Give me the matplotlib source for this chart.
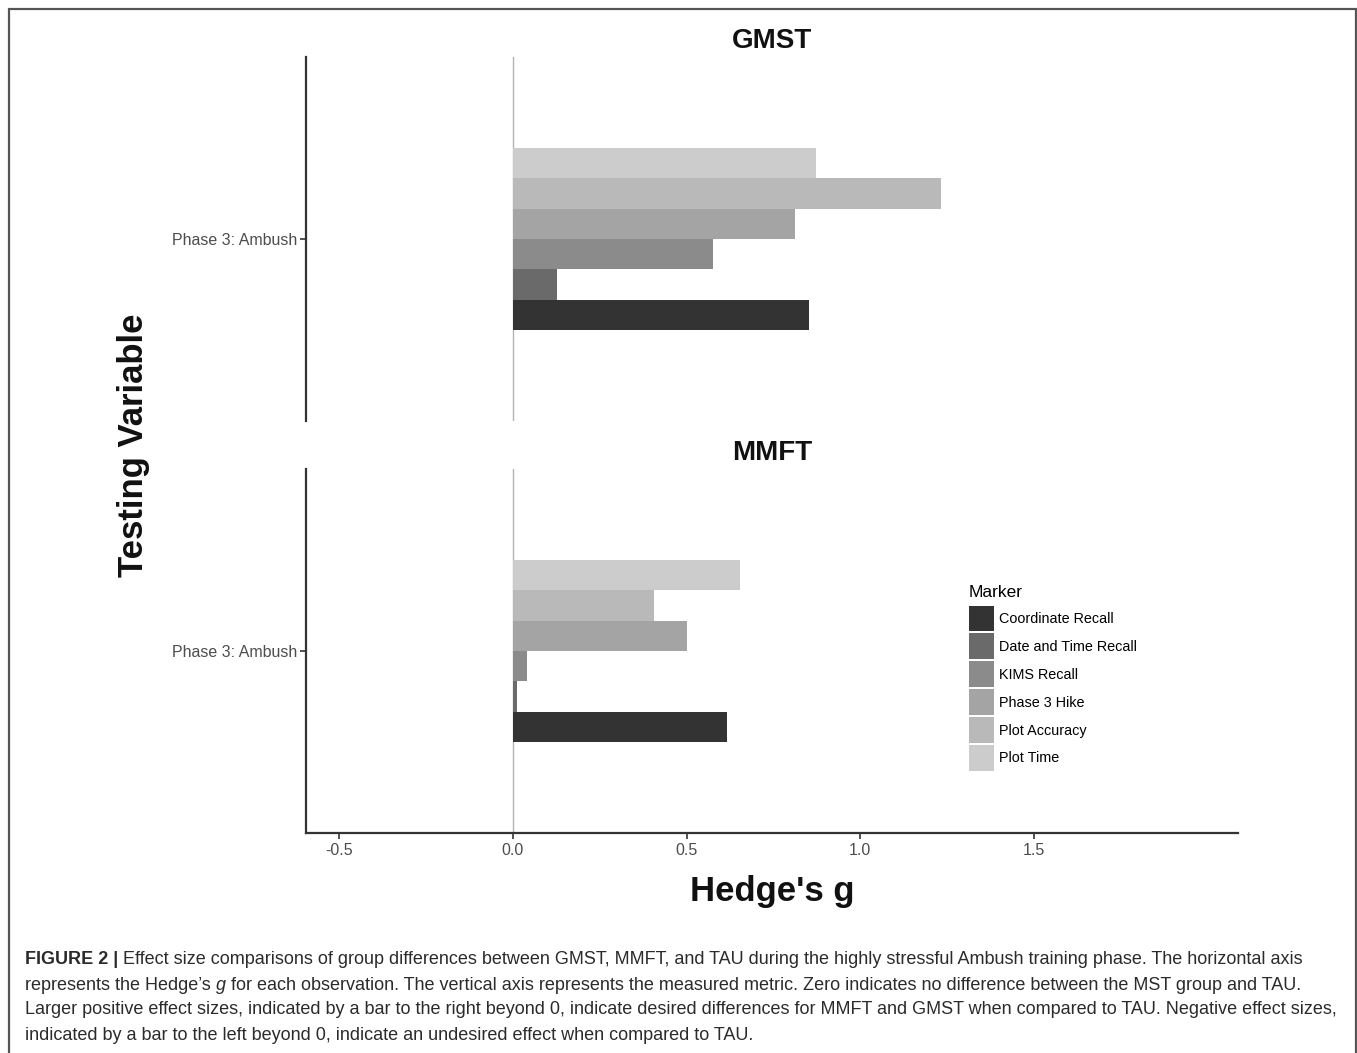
import numpy as np
import matplotlib
matplotlib.use("Agg")
import matplotlib.pyplot as plt
from matplotlib.patches import Rectangle, Patch

plt.rcParams["font.family"] = ["Liberation Sans", "DejaVu Sans"]

# ---------------------------------------------------------------------------
# Data (Hedge's g per marker)
# ---------------------------------------------------------------------------
markers = ["Coordinate Recall", "Date and Time Recall", "KIMS Recall",
           "Phase 3 Hike", "Plot Accuracy", "Plot Time"]
gmst_g = [0.851, 0.126, 0.577, 0.811, 1.231, 0.872]
mmft_g = [0.617, 0.011, 0.040, 0.500, 0.406, 0.655]
groups = ["GMST", "MMFT"]
category = "Phase 3: Ambush"
xticks = [-0.5, 0.0, 0.5, 1.0, 1.5]

# scale_fill_grey(start=0.2, end=0.8) equivalent
greys = ["#333333", "#6a6a6a", "#8b8b8b", "#a4a4a4", "#b9b9b9", "#cccccc"]

W, H = 1357, 1053
fig = plt.figure(figsize=(W / 100, H / 100), dpi=100)


def fx(px):
    return px / W


def fy(py):
    return 1 - py / H


panel_left, panel_right = 306, 1238
panels = [(57, 421), (469, 833)]
xlim = ((306 - 513) / 347.3, (1238 - 513) / 347.3)

axes = []
for (top, bot), name, vals in zip(panels, groups, [gmst_g, mmft_g]):
    ax = fig.add_axes([fx(panel_left), fy(bot), fx(panel_right - panel_left),
                       (bot - top) / H])
    n = len(markers)
    bw = 0.6 / n
    ys = 1 - 0.3 + bw / 2 + np.arange(n) * bw
    ax.barh(ys, vals, height=bw, color=greys, linewidth=0)
    ax.axvline(0, color="#b3b3b3", linewidth=1.0, zorder=0)
    ax.set_xlim(*xlim)
    ax.set_ylim(0.4, 1.6)
    ax.set_yticks([1])
    ax.set_yticklabels([category], fontsize=11.5, color="#4d4d4d")
    ax.tick_params(axis="y", length=4, width=1.2, color="#333333", pad=2)
    for s in ["top", "right"]:
        ax.spines[s].set_visible(False)
    ax.spines["left"].set_linewidth(1.6)
    ax.spines["left"].set_color("#333333")
    fig.text(fx(772), fy(top - 16), name, ha="center", va="center",
             fontsize=20, fontweight="bold", color="#111111")
    axes.append(ax)

axes[0].spines["bottom"].set_visible(False)
axes[0].set_xticks([])
ax = axes[1]
ax.spines["bottom"].set_linewidth(1.6)
ax.spines["bottom"].set_color("#333333")
ax.set_xticks(xticks)
ax.set_xticklabels([f"{t:.1f}" for t in xticks], fontsize=11.5, color="#4d4d4d")
ax.tick_params(axis="x", length=4, width=1.2, color="#333333", pad=3)

fig.text(fx(133), fy(445), "Testing Variable", rotation=90, ha="center",
         va="center", fontsize=25, fontweight="bold", color="#111111")
fig.text(fx(772), fy(891), "Hedge's g", ha="center", va="center",
         fontsize=25, fontweight="bold", color="#111111")

handles = [Patch(facecolor=c, edgecolor="none") for c in greys]
leg = fig.legend(handles, markers, title="Marker", loc="upper left",
                 bbox_to_anchor=(fx(969), fy(585)), frameon=False,
                 fontsize=10.4, title_fontsize=12.5, handlelength=1.72,
                 handleheight=2.38, labelspacing=0.14, handletextpad=0.33,
                 borderpad=0, borderaxespad=0, alignment="left")
leg._legend_box.sep = 4

# ---------------------------------------------------------------------------
# Caption
# ---------------------------------------------------------------------------
cap_color = "#2b2b2b"
cap_size = 12.95
lines = [
    [("FIGURE 2 | ", "bold", "normal"),
     ("Effect size comparisons of group differences between GMST, MMFT, and TAU "
      "during the highly stressful Ambush training phase. The horizontal axis",
      "normal", "normal")],
    [("represents the Hedge\u2019s ", "normal", "normal"), ("g", "normal", "italic"),
     (" for each observation. The vertical axis represents the measured metric. "
      "Zero indicates no difference between the MST group and TAU.", "normal", "normal")],
    [("Larger positive effect sizes, indicated by a bar to the right beyond 0, "
      "indicate desired differences for MMFT and GMST when compared to TAU. "
      "Negative effect sizes,", "normal", "normal")],
    [("indicated by a bar to the left beyond 0, indicate an undesired effect when "
      "compared to TAU.", "normal", "normal")],
]
renderer = fig.canvas.get_renderer()
for i, pieces in enumerate(lines):
    x = 25
    y = fy(960 + 25 * i)
    for txt, weight, style in pieces:
        t = fig.text(fx(x), y, txt, ha="left", va="center", fontsize=cap_size,
                     fontweight=weight, fontstyle=style, color=cap_color)
        bb = t.get_window_extent(renderer=renderer)
        x += bb.width

# Outer frame
fig.add_artist(Rectangle((fx(8.5), fy(1060)), fx(1356 - 8.5), fy(8.5) - fy(1060),
                         transform=fig.transFigure, fill=False,
                         edgecolor="#555555", linewidth=1.6, clip_on=False))

fig.savefig("out.png", dpi=100)
